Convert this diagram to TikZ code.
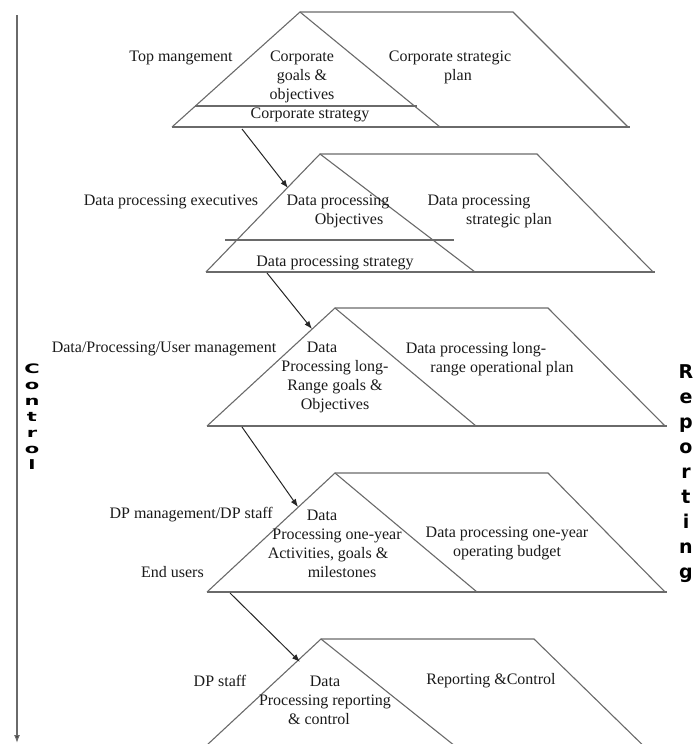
\documentclass[tikz,border=0pt]{standalone}
\usepackage{fontspec}
\setmainfont{Liberation Serif}
\newfontfamily\heavyfont{DejaVu Sans}
\usetikzlibrary{arrows.meta}
\definecolor{linegray}{HTML}{6A6A6A}
\definecolor{textdark}{HTML}{1A1A1A}
\tikzset{
  layer/.style={draw=linegray, line width=1.1pt, line join=miter},
  base/.style={draw=linegray, line width=2pt},
  lbl/.style={font=\fontsize{16}{19}\selectfont, inner sep=0pt, align=center, text=textdark},
  flow/.style={draw=black!85, line width=1pt, -{Latex[length=8pt,width=6pt]}},
  heavy/.style={inner sep=0pt, align=center, text=black}
}
\newcommand{\sq}[1]{\scalebox{1}[0.62]{#1}}
\begin{document}
\begin{tikzpicture}[x=1pt,y=-1pt]
\useasboundingbox (0,0) rectangle (694,744);
\clip (0,0) rectangle (694,744);

% ---------- layer 1
\draw[layer] (172,127) -- (300,12) -- (513,12) -- (628,127);
\draw[layer] (300,12) -- (440,127);
\draw[layer] (195,106) -- (417,106);
\draw[base] (172,127) -- (630,127);
\node[lbl] (tm) at (181,58) {Top mangement};
\node[lbl] (cg) at (302,77) {Corporate\\goals \&\\objectives};
\node[lbl] (csp) at (450,67.5) {Corporate strategic\\\hspace*{16pt}plan};
\node[lbl] (cs) at (310,115) {Corporate strategy};
\coordinate (a1s) at (242,129);

% ---------- layer 2
\draw[layer] (206,272) -- (320,154) -- (537,154) -- (653,272);
\draw[layer] (320,154) -- (475,272);
\draw[layer] (225,240) -- (454,240);
\draw[base] (206,272) -- (655,272);
\node[lbl] (dpe) at (171,202) {Data processing executives};
\node[lbl] (dpo) at (338,211) {Data processing\\\hspace*{22pt}Objectives};
\node[lbl] (dpsp) at (494,211) {\hspace*{-30pt}Data processing\\\hspace*{30pt}strategic plan};
\node[lbl] (dps) at (335,263) {Data processing strategy};
\coordinate (a1e) at (288,188);
\coordinate (a2s) at (267,273);

% ---------- layer 3
\draw[layer] (207,426) -- (335,308) -- (548,308) -- (665,426);
\draw[layer] (335,308) -- (476,426);
\draw[base] (207,426) -- (667,426);
\node[lbl] (dpum) at (164,349) {Data/Processing/User management};
\node[lbl] (dplr) at (335,377.5) {\hspace*{-26pt}Data\\Processing long-\\Range goals \&\\Objectives};
\node[lbl] (dplp) at (489,359.5) {\hspace*{-26pt}Data processing long-\\\hspace*{26pt}range operational plan};
\coordinate (a2e) at (312,329);
\coordinate (a3s) at (242,427);

% ---------- layer 4
\draw[layer] (207,592) -- (335,473) -- (548,473) -- (665,592);
\draw[layer] (335,473) -- (477,592);
\draw[base] (207,592) -- (667,592);
\node[lbl, anchor=east] (dpm) at (273,515) {DP management/DP staff};
\node[lbl, anchor=east] (eu) at (204,572) {End users};
\node[lbl] (dpoy) at (335,543.5) {\hspace*{-26pt}Data\\\hspace*{4pt}Processing one-year\\\hspace*{-14pt}Activities, goals \&\\\hspace*{14pt}milestones};
\node[lbl] (dpob) at (507,543.5) {Data processing one-year\\operating budget};
\coordinate (a3e) at (298,507);
\coordinate (a4s) at (230,593);

% ---------- layer 5
\draw[layer] (193,758) -- (321,639) -- (534,639) -- (656,758);
\draw[layer] (321,639) -- (470,758);
\node[lbl] (dps5) at (220,681) {DP staff};
\node[lbl] (dprc) at (325,700.5) {Data\\Processing reporting\\\hspace*{-12pt}\& control};
\node[lbl] (rc) at (491,681) {Reporting \&Control};
\coordinate (a4e) at (300,662);

% ---------- flow arrows
\draw[flow] (a1s) -- (a1e);
\draw[flow] (a2s) -- (a2e);
\draw[flow] (a3s) -- (a3e);
\draw[flow] (a4s) -- (a4e);

% ---------- control axis
\coordinate (ctop) at (17,15);
\coordinate (cbot) at (17,743);
\draw[draw=linegray, line width=1.3pt, -{Latex[length=8pt,width=6pt,fill=black]}] (ctop) -- (cbot);
\node[heavy, anchor=north, font=\heavyfont\bfseries\fontsize{21}{16}\selectfont] (ctl) at (32,364)
  {\sq{C}\\\sq{o}\\\sq{n}\\\sq{t}\\\sq{r}\\\sq{o}\\\sq{l}};
\node[heavy, anchor=north, font=\heavyfont\bfseries\fontsize{19}{25}\selectfont] (rep) at (686,364)
  {R\\e\\p\\o\\r\\t\\i\\n\\g};
\end{tikzpicture}
\end{document}
